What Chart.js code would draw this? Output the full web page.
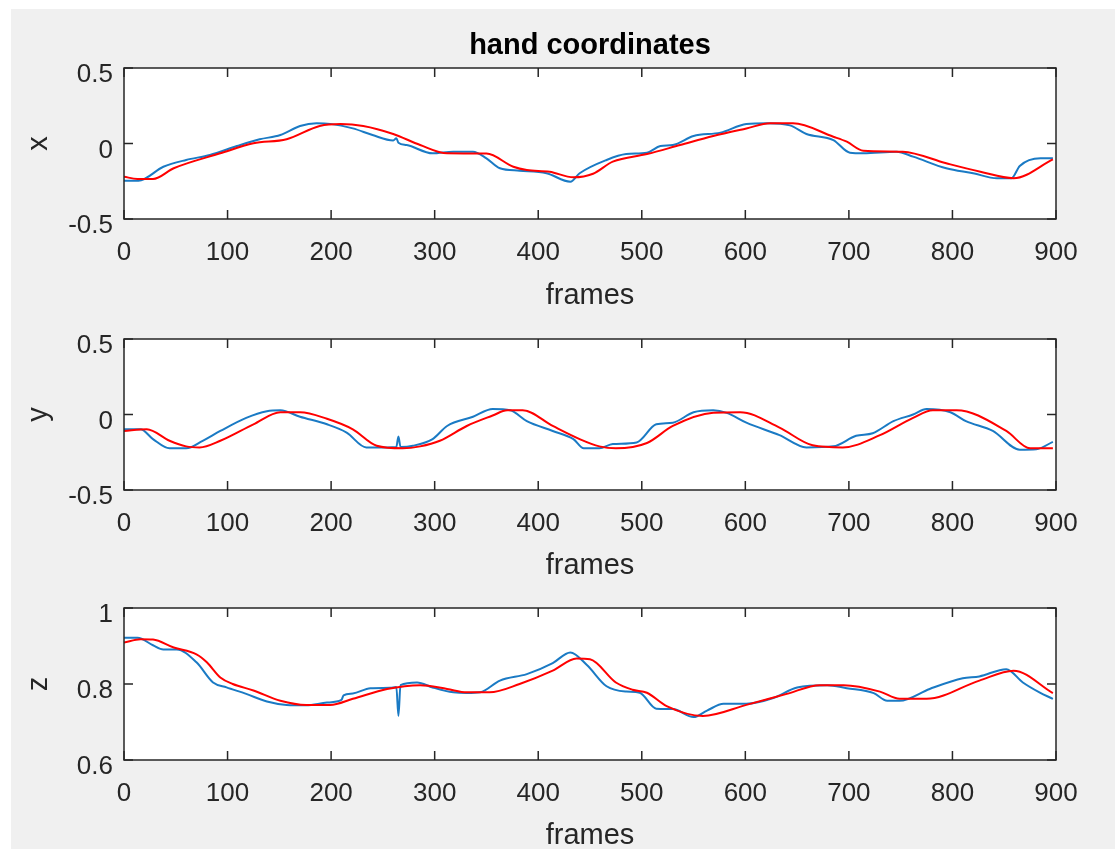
<!DOCTYPE html>
<html>
<head>
<meta charset="utf-8">
<title>hand coordinates</title>
<script src="https://cdn.jsdelivr.net/npm/chart.js@4.4.1/dist/chart.umd.min.js"></script>
<style>
  html, body { margin: 0; padding: 0; background: #ffffff; overflow: hidden; }
  #figure { position: absolute; left: 11px; top: 9px; width: 1104px; height: 840px; background: #f0f0f0; }
  canvas { position: absolute; left: 0; }
</style>
</head>
<body>
<div id="figure"></div>
<canvas id="panelX" width="1115" height="320" style="top:0px"></canvas>
<canvas id="panelY" width="1115" height="290" style="top:300px"></canvas>
<canvas id="panelZ" width="1115" height="290" style="top:570px"></canvas>

<script>
// frame axis
const frameTicks = [0, 100, 200, 300, 400, 500, 600, 700, 800, 900];

// value axes
const xTicks = [-0.5, 0, 0.5];
const xTickLabels = ["-0.5", "0", "0.5"];
const yTicks = [-0.5, 0, 0.5];
const yTickLabels = ["-0.5", "0", "0.5"];
const zTicks = [0.6, 0.8, 1];
const zTickLabels = ["0.6", "0.8", "1"];

// tracked hand position [frame, value]
const xTracked = [[0,-0.246],[14,-0.246],[38,-0.154],[60,-0.109],[83,-0.076],[109,-0.017],[131,0.028],[151,0.056],[170,0.116],[186,0.134],[199,0.13],[221,0.10],[240,0.056],[260,0.02],[263,0.035],[265,0.005],[273,-0.01],[298,-0.065],[318,-0.054],[337,-0.054],[350,-0.098],[363,-0.164],[382,-0.18],[408,-0.197],[431,-0.253],[440,-0.197],[466,-0.109],[485,-0.07],[505,-0.061],[518,-0.017],[530,-0.01],[550,0.05],[576,0.072],[601,0.129],[621,0.134],[643,0.12],[659,0.063],[685,0.023],[701,-0.061],[714,-0.065],[746,-0.054],[762,-0.087],[794,-0.164],[820,-0.197],[843,-0.23],[857,-0.23],[865,-0.149],[885,-0.098],[897,-0.098]];
const yTracked = [[0,-0.098],[16,-0.098],[28,-0.163],[44,-0.224],[60,-0.224],[76,-0.174],[93,-0.109],[118,-0.022],[138,0.022],[151,0.028],[170,-0.015],[196,-0.065],[215,-0.12],[234,-0.218],[254,-0.218],[263,-0.215],[265,-0.145],[267,-0.215],[279,-0.207],[298,-0.163],[312,-0.076],[337,-0.015],[356,0.037],[373,0.028],[389,-0.044],[414,-0.109],[434,-0.163],[444,-0.224],[459,-0.224],[472,-0.196],[495,-0.185],[514,-0.065],[530,-0.054],[550,0.015],[569,0.028],[582,0.011],[601,-0.054],[633,-0.137],[659,-0.218],[685,-0.211],[707,-0.141],[723,-0.124],[743,-0.044],[762,0.0],[775,0.037],[798,0.015],[813,-0.044],[839,-0.109],[865,-0.233],[881,-0.23],[897,-0.181]];
const zTracked = [[0,0.922],[13,0.922],[28,0.902],[38,0.891],[51,0.891],[70,0.857],[86,0.804],[99,0.791],[118,0.774],[138,0.754],[157,0.745],[176,0.744],[196,0.751],[210,0.758],[212,0.77],[221,0.775],[238,0.789],[257,0.79],[263,0.792],[265,0.716],[267,0.797],[283,0.804],[298,0.791],[318,0.778],[331,0.776],[344,0.778],[363,0.809],[389,0.826],[414,0.855],[431,0.883],[447,0.85],[466,0.794],[485,0.78],[498,0.777],[514,0.735],[530,0.734],[550,0.713],[563,0.73],[579,0.748],[601,0.748],[627,0.763],[650,0.791],[679,0.797],[698,0.789],[724,0.776],[737,0.756],[749,0.756],[778,0.787],[810,0.815],[826,0.82],[852,0.839],[868,0.804],[884,0.778],[897,0.761]];

// fitted hand position [frame, value]
const xFitted = [[0,-0.22],[13,-0.235],[28,-0.235],[48,-0.164],[93,-0.065],[125,0.001],[157,0.028],[189,0.116],[209,0.129],[231,0.116],[260,0.063],[286,-0.01],[312,-0.065],[350,-0.067],[376,-0.154],[389,-0.176],[411,-0.187],[434,-0.224],[453,-0.20],[472,-0.12],[505,-0.07],[537,-0.01],[569,0.05],[601,0.10],[624,0.134],[646,0.134],[685,0.045],[698,0.012],[714,-0.048],[752,-0.054],[794,-0.131],[827,-0.187],[859,-0.23],[897,-0.105]];
const yFitted = [[0,-0.109],[22,-0.098],[44,-0.174],[60,-0.211],[73,-0.218],[93,-0.174],[125,-0.065],[151,0.015],[170,0.015],[196,-0.028],[221,-0.098],[244,-0.207],[269,-0.224],[286,-0.211],[305,-0.174],[331,-0.076],[356,-0.007],[370,0.028],[385,0.028],[414,-0.076],[440,-0.163],[459,-0.211],[475,-0.224],[505,-0.189],[530,-0.076],[569,0.011],[595,0.015],[633,-0.087],[665,-0.204],[694,-0.218],[730,-0.137],[762,-0.022],[781,0.028],[804,0.028],[852,-0.109],[875,-0.224],[897,-0.224]];
const zFitted = [[0,0.909],[16,0.918],[28,0.917],[48,0.896],[70,0.878],[80,0.857],[93,0.817],[105,0.8],[125,0.783],[151,0.756],[176,0.745],[199,0.745],[221,0.761],[254,0.787],[286,0.797],[312,0.787],[331,0.778],[353,0.778],[382,0.8],[414,0.835],[437,0.867],[450,0.865],[475,0.804],[491,0.785],[505,0.777],[524,0.742],[559,0.716],[601,0.745],[640,0.774],[672,0.797],[695,0.797],[730,0.78],[749,0.761],[775,0.761],[826,0.809],[859,0.835],[897,0.776]];

const TRACK_COLOR = "#1a7ac4";
const FIT_COLOR = "#FF0000";
const AXIS_COLOR = "#262626";
const FONT = "'Liberation Sans', Arial, sans-serif";

// white plot area, box and inward ticks on all four sides
const axesBox = {
    id: "axesBox",
    beforeDatasetsDraw(chart) {
        const { ctx, chartArea: a } = chart;
        ctx.save();
        ctx.fillStyle = "#ffffff";
        ctx.fillRect(a.left, a.top, a.right - a.left, a.bottom - a.top);
        ctx.restore();
    },
    afterDatasetsDraw(chart) {
        const { ctx, chartArea: a, scales } = chart;
        const len = 9;
        ctx.save();
        ctx.strokeStyle = AXIS_COLOR;
        ctx.lineWidth = 1.5;
        ctx.beginPath();
        scales.x.ticks.forEach(t => {
            const px = scales.x.getPixelForValue(t.value);
            ctx.moveTo(px, a.bottom); ctx.lineTo(px, a.bottom - len);
            ctx.moveTo(px, a.top); ctx.lineTo(px, a.top + len);
        });
        scales.y.ticks.forEach(t => {
            const py = scales.y.getPixelForValue(t.value);
            ctx.moveTo(a.left, py); ctx.lineTo(a.left + len, py);
            ctx.moveTo(a.right, py); ctx.lineTo(a.right - len, py);
        });
        ctx.stroke();
        ctx.strokeRect(a.left, a.top, a.right - a.left, a.bottom - a.top);
        ctx.restore();
    }
};

function toPoints(pairs) {
    return pairs.map(([f, v]) => ({ x: f, y: v }));
}

function makePanel(id, cfg) {
    const line = { borderWidth: 2, pointRadius: 0, cubicInterpolationMode: "monotone" };
    return new Chart(document.getElementById(id), {
        type: "line",
        data: {
            datasets: [
                { label: "fitted", data: toPoints(cfg.fitted), borderColor: FIT_COLOR, ...line },
                { label: "tracked", data: toPoints(cfg.tracked), borderColor: TRACK_COLOR, ...line }
            ]
        },
        options: {
            responsive: false,
            animation: false,
            events: [],
            layout: { padding: { top: cfg.padTop, right: 59, left: 0, bottom: 0 } },
            plugins: {
                legend: { display: false },
                tooltip: { enabled: false },
                title: cfg.title ? {
                    display: true,
                    text: cfg.title,
                    fullSize: false,
                    color: "#000000",
                    font: { family: FONT, size: 29, weight: "bold" },
                    padding: { top: 29, bottom: 4.2 }
                } : { display: false }
            },
            scales: {
                x: {
                    type: "linear",
                    min: 0,
                    max: 900,
                    afterBuildTicks: s => { s.ticks = frameTicks.map(v => ({ value: v })); },
                    afterFit: s => { s.height = cfg.axisHeight; },
                    grid: { display: false, drawTicks: false },
                    border: { display: false },
                    ticks: {
                        color: AXIS_COLOR,
                        font: { family: FONT, size: 26 },
                        padding: 18,
                        maxRotation: 0,
                        autoSkip: false,
                        callback: v => String(v)
                    },
                    title: {
                        display: true,
                        text: "frames",
                        color: AXIS_COLOR,
                        font: { family: FONT, size: 29 },
                        padding: { top: 0, bottom: 7 }
                    }
                },
                y: {
                    type: "linear",
                    min: cfg.ticks[0],
                    max: cfg.ticks[cfg.ticks.length - 1],
                    afterBuildTicks: s => { s.ticks = cfg.ticks.map(v => ({ value: v })); },
                    afterFit: s => { s.width = 124; },
                    grid: { display: false, drawTicks: false },
                    border: { display: false },
                    ticks: {
                        color: AXIS_COLOR,
                        font: { family: FONT, size: 26 },
                        padding: 11,
                        labelOffset: 7,
                        autoSkip: false,
                        callback: (v, i) => cfg.tickLabels[i]
                    },
                    title: {
                        display: true,
                        text: cfg.label,
                        color: AXIS_COLOR,
                        font: { family: FONT, size: 29 },
                        padding: { top: 22, bottom: 0 }
                    }
                }
            }
        },
        plugins: [axesBox]
    });
}

makePanel("panelX", { label: "x", title: "hand coordinates", padTop: 0, axisHeight: 101,
    ticks: xTicks, tickLabels: xTickLabels, tracked: xTracked, fitted: xFitted });
makePanel("panelY", { label: "y", padTop: 39, axisHeight: 100,
    ticks: yTicks, tickLabels: yTickLabels, tracked: yTracked, fitted: yFitted });
makePanel("panelZ", { label: "z", padTop: 38, axisHeight: 100,
    ticks: zTicks, tickLabels: zTickLabels, tracked: zTracked, fitted: zFitted });
</script>
</body>
</html>
